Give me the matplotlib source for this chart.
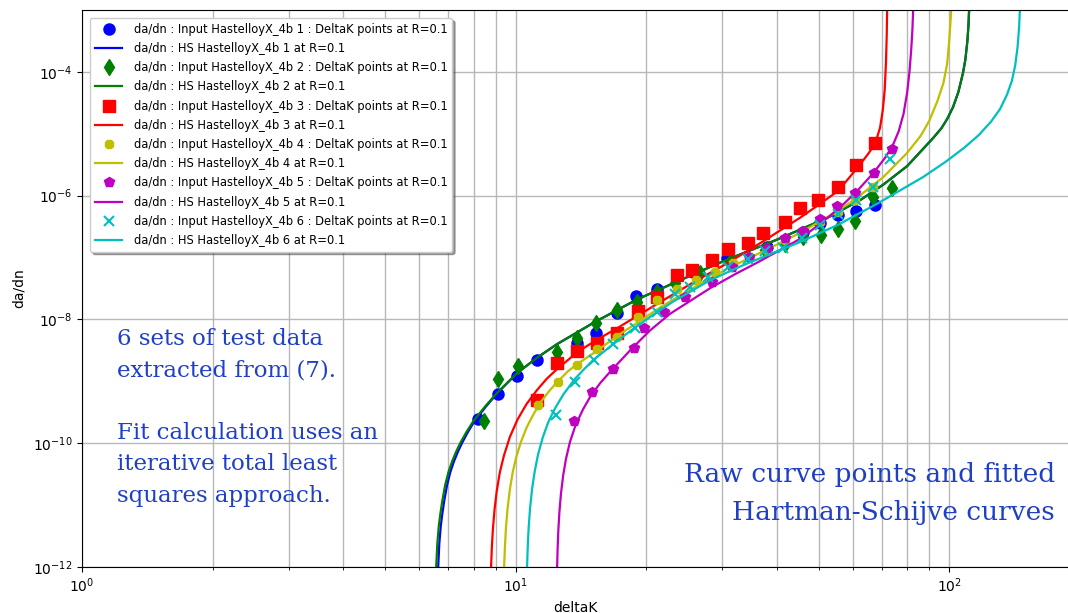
import matplotlib
matplotlib.use("Agg")
import matplotlib.pyplot as plt
from matplotlib.ticker import NullLocator, FixedLocator

# --- raw test points (deltaK, da/dn) ---
test_dk_1 = [8.19, 9.11, 10.08, 11.21, 13.87, 15.34, 17.14, 18.97, 21.21, 25.67, 30.75, 38.03, 46.05, 50.39, 55.45, 61.01, 67.49]
test_dadn_1 = [2.46e-10, 6.24e-10, 1.22e-9, 2.21e-9, 4.16e-9, 6.03e-9, 1.27e-8, 2.39e-8, 3.10e-8, 5.83e-8, 9.8e-8, 1.48e-7, 2.58e-7, 3.61e-7, 4.86e-7, 5.64e-7, 7.05e-7]

test_dk_2 = [8.46, 9.11, 10.13, 12.47, 13.87, 15.34, 17.14, 19.07, 21.21, 23.33, 26.65, 31.25, 37.63, 41.85, 46.05, 50.66, 55.45, 60.69, 66.78, 73.88]
test_dadn_2 = [2.29e-10, 1.09e-9, 1.77e-9, 2.97e-9, 5.00e-9, 8.75e-9, 1.42e-8, 1.91e-8, 2.77e-8, 3.87e-8, 5.62e-8, 8.46e-8, 1.32e-7, 1.65e-7, 2.14e-7, 2.31e-7, 2.89e-7, 3.89e-7, 9.49e-7, 1.32e-6]

test_dk_3 = [11.21, 12.47, 13.87, 15.42, 17.14, 19.17, 21.21, 23.58, 25.54, 28.40, 30.92, 34.4, 37.24, 41.85, 45.33, 49.86, 55.45, 61.01, 67.49]
test_dadn_3 = [4.99e-10, 1.98e-9, 3.09e-9, 4.16e-9, 6.03e-9, 1.37e-8, 2.30e-8, 5.21e-8, 6.28e-8, 9.12e-8, 1.37e-7, 1.71e-7, 2.49e-7, 3.75e-7, 6.31e-7, 8.44e-7, 1.37e-6, 3.12e-6, 7.08e-6]

test_dk_4 = [11.27, 12.53, 13.87, 15.42, 17.14, 19.17, 21.21, 23.58, 26.09, 28.85, 31.74, 34.74, 38.03, 41.85, 46.05, 50.39, 55.45, 60.69, 66.78]
test_dadn_4 = [4.14e-10, 9.75e-10, 1.83e-9, 3.33e-9, 5.19e-9, 1.09e-8, 2.06e-8, 3.10e-8, 4.33e-8, 5.83e-8, 8.15e-8, 1.02e-7, 1.32e-7, 1.92e-7, 2.69e-7, 3.75e-7, 5.43e-7, 8.44e-7, 1.37e-6]

test_dk_5 = [13.65, 15.02, 16.79, 18.77, 19.79, 22.01, 24.6, 28.40, 31.58, 34.56, 38.03, 41.85, 46.05, 50.39, 55.15, 60.69, 67.14, 73.88]
test_dadn_5 = [2.29e-10, 6.72e-10, 1.58e-9, 3.45e-9, 7.27e-9, 1.32e-8, 2.30e-8, 4.02e-8, 7.03e-8, 1.02e-7, 1.42e-7, 2.07e-7, 2.69e-7, 4.19e-7, 6.79e-7, 1.10e-6, 2.32e-6, 5.66e-6]

test_dk_6 = [12.40, 13.72, 15.18, 16.79, 18.87, 21.21, 23.33, 25.27, 27.81, 30.92, 34.4, 37.63, 41.41, 45.81, 50.39, 55.45, 61.01, 66.78, 73.1]
test_dadn_6 = [2.86e-10, 9.75e-10, 2.21e-9, 4.01e-9, 7.27e-9, 1.32e-8, 2.57e-8, 3.34e-8, 4.84e-8, 7.03e-8, 9.46e-8, 1.27e-7, 1.42e-7, 2.07e-7, 3.36e-7, 5.04e-7, 8.44e-7, 1.37e-6, 3.90e-6]

# --- fitted Hartman-Schijve curves ---
hs_dk_1 = [6.63, 6.67, 6.72, 6.77, 6.85, 6.95, 7.07, 7.21, 7.37, 7.52, 7.76, 8.03, 8.54, 9.09, 10.07, 11.2, 12.47,
           15.24, 19.05, 23.6, 30.1, 40.1, 52.4, 62.4, 70.5, 80.0, 91.8, 96.0, 99.0, 102.1, 105.0, 107.6, 109.0,
           110.2, 110.8, 111.2]
hs_dadn_1 = [1.0e-12, 2.4e-12, 4.5e-12, 6.9e-12, 1.2e-11, 2.1e-11, 3.4e-11, 5.1e-11, 7.4e-11, 1.0e-10, 1.51e-10,
             2.24e-10, 3.9e-10, 6.5e-10, 1.35e-9, 2.4e-9, 4.0e-9, 9.1e-9, 2.1e-8, 4.1e-8, 8.7e-8, 1.95e-7, 4.4e-7,
             8.5e-7, 1.51e-6, 3.0e-6, 8.5e-6, 1.23e-5, 1.74e-5, 2.7e-5, 4.7e-5, 9.5e-5, 1.58e-4, 3.2e-4, 5.6e-4, 1.0e-3]

hs_dk_2 = [6.56, 6.60, 6.65, 6.70, 6.78, 6.88, 7.00, 7.14, 7.30, 7.45, 7.70, 7.98, 8.50, 9.06, 10.07, 11.2, 12.47,
           15.24, 19.05, 23.6, 30.1, 40.1, 52.4, 62.4, 70.5, 80.0, 91.8, 96.0, 99.0, 102.1, 105.0, 107.6, 109.0,
           110.2, 110.8, 111.2]
hs_dadn_2 = [1.0e-12, 2.4e-12, 4.5e-12, 6.9e-12, 1.2e-11, 2.1e-11, 3.4e-11, 5.1e-11, 7.4e-11, 1.0e-10, 1.51e-10,
             2.24e-10, 3.9e-10, 6.5e-10, 1.35e-9, 2.4e-9, 4.0e-9, 9.1e-9, 2.1e-8, 4.1e-8, 8.7e-8, 1.95e-7, 4.4e-7,
             8.5e-7, 1.51e-6, 3.0e-6, 8.5e-6, 1.23e-5, 1.74e-5, 2.7e-5, 4.7e-5, 9.5e-5, 1.58e-4, 3.2e-4, 5.6e-4, 1.0e-3]

hs_dk_3 = [8.78, 8.82, 8.87, 8.95, 9.05, 9.20, 9.40, 9.70, 10.1, 10.6, 11.2, 11.8, 12.47, 13.87, 15.4, 17.14,
           21.2, 26.2, 30.8, 37.2, 45.3, 50.0, 55.5, 61.4, 65.0, 67.5, 69.3, 70.3, 71.0, 71.5, 71.8, 71.95]
hs_dadn_3 = [1.0e-12, 2.2e-12, 4.3e-12, 8.9e-12, 1.7e-11, 3.4e-11, 6.3e-11, 1.26e-10, 2.4e-10, 4.3e-10, 7.2e-10,
             1.1e-9, 1.58e-9, 2.95e-9, 4.7e-9, 7.2e-9, 1.78e-8, 4.3e-8, 8.1e-8, 1.82e-7, 4.4e-7, 7.1e-7, 1.2e-6,
             2.8e-6, 4.7e-6, 6.9e-6, 1.26e-5, 2.4e-5, 5.0e-5, 1.41e-4, 4.0e-4, 1.0e-3]

hs_dk_4 = [9.41, 9.45, 9.50, 9.58, 9.70, 9.85, 10.05, 10.3, 10.63, 11.0, 11.5, 12.0, 12.53, 13.2, 13.87, 15.5,
           17.14, 19.2, 21.2, 23.6, 26.2, 30.8, 38.0, 45.3, 52.4, 60.1, 70.5, 80.0, 86.0, 90.0, 94.0, 97.0, 98.9,
           99.9, 100.6, 101.1]
hs_dadn_4 = [1.0e-12, 2.1e-12, 4.2e-12, 8.5e-12, 1.78e-11, 3.4e-11, 6.2e-11, 1.07e-10, 1.86e-10, 2.95e-10, 4.9e-10,
             7.2e-10, 1.0e-9, 1.45e-9, 1.9e-9, 3.2e-9, 5.4e-9, 9.1e-9, 1.45e-8, 2.3e-8, 3.5e-8, 6.6e-8, 1.35e-7,
             2.5e-7, 4.5e-7, 8.3e-7, 2.0e-6, 4.9e-6, 9.3e-6, 1.62e-5, 3.4e-5, 6.6e-5, 1.32e-4, 2.8e-4, 5.6e-4, 1.0e-3]

hs_dk_5 = [12.47, 12.50, 12.55, 12.62, 12.72, 12.87, 13.07, 13.35, 13.75, 14.3, 14.9, 15.7, 16.5, 18.4, 20.4,
           22.7, 25.3, 28.1, 32.1, 36.1, 41.4, 45.3, 50.4, 56.1, 61.4, 66.8, 71.0, 74.0, 76.5, 78.5, 80.0, 81.0,
           81.8, 82.3, 82.6]
hs_dadn_5 = [1.0e-12, 1.9e-12, 3.9e-12, 7.6e-12, 1.48e-11, 2.95e-11, 5.6e-11, 1.05e-10, 1.95e-10, 3.5e-10, 5.8e-10,
             9.5e-10, 1.41e-9, 3.2e-9, 6.6e-9, 1.23e-8, 2.0e-8, 3.2e-8, 5.4e-8, 8.3e-8, 1.41e-7, 2.0e-7, 3.5e-7,
             6.5e-7, 1.2e-6, 2.3e-6, 4.0e-6, 6.3e-6, 1.1e-5, 2.1e-5, 4.6e-5, 1.0e-4, 2.4e-4, 5.0e-4, 1.0e-3]

hs_dk_6 = [10.63, 10.67, 10.72, 10.80, 10.92, 11.07, 11.27, 11.55, 11.9, 12.34, 12.9, 13.71, 14.4, 15.1, 16.8,
           18.7, 20.7, 23.1, 28.1, 33.0, 40.7, 45.3, 55.5, 68.2, 87.1, 98.0, 108.5, 117.0, 125.0, 131.0, 136.0,
           139.5, 142.0, 143.8, 145.0, 145.6]
hs_dadn_6 = [1.0e-12, 2.2e-12, 4.3e-12, 8.9e-12, 1.86e-11, 3.5e-11, 6.6e-11, 1.23e-10, 2.2e-10, 3.7e-10, 6.2e-10,
             1.1e-9, 1.58e-9, 2.2e-9, 4.0e-9, 7.1e-9, 1.17e-8, 1.95e-8, 4.3e-8, 7.2e-8, 1.32e-7, 1.78e-7, 3.4e-7,
             7.4e-7, 2.0e-6, 3.5e-6, 6.0e-6, 9.5e-6, 1.58e-5, 2.5e-5, 4.3e-5, 7.1e-5, 1.26e-4, 2.5e-4, 5.2e-4, 1.0e-3]

test_dk = [test_dk_1, test_dk_2, test_dk_3, test_dk_4, test_dk_5, test_dk_6]
test_dadn = [test_dadn_1, test_dadn_2, test_dadn_3, test_dadn_4, test_dadn_5, test_dadn_6]
hs_dk = [hs_dk_1, hs_dk_2, hs_dk_3, hs_dk_4, hs_dk_5, hs_dk_6]
hs_dadn = [hs_dadn_1, hs_dadn_2, hs_dadn_3, hs_dadn_4, hs_dadn_5, hs_dadn_6]

colors = ['b', 'g', 'r', 'y', 'm', 'c']
markers = ['o', 'd', 's', '8', 'p', 'x']
marker_sizes = [8, 8, 8, 7, 7, 7]

text_blue = '#1f3fc4'

fig = plt.figure(figsize=(10.68, 6.13), dpi=100)
ax = fig.add_axes([82 / 1068, 46 / 613, 1 - 82 / 1068, 557 / 613])

for i in range(6):
    name = 'HastelloyX_4b %d' % (i + 1)
    ax.plot(test_dk[i], test_dadn[i], linestyle='none', marker=markers[i], color=colors[i],
            markersize=marker_sizes[i], markeredgewidth=1.5 if markers[i] == 'x' else 1,
            label='da/dn : Input %s : DeltaK points at R=0.1' % name)
    ax.plot(hs_dk[i], hs_dadn[i], color=colors[i], linewidth=1.6,
            label='da/dn : HS %s at R=0.1' % name)

ax.set_xscale('log')
ax.set_yscale('log')
ax.set_xlim(1, 188)
ax.set_ylim(1e-12, 1e-3)
ax.yaxis.set_major_locator(FixedLocator([1e-12, 1e-10, 1e-8, 1e-6, 1e-4]))
ax.yaxis.set_minor_locator(NullLocator())
ax.grid(True, which='both', color='#b8b8b8', linewidth=1.0)
ax.set_axisbelow(True)
ax.spines['right'].set_visible(False)
ax.tick_params(labelsize=10)

ax.set_xlabel('deltaK', fontsize=10, labelpad=4)
ax.set_ylabel('da/dn', fontsize=10, labelpad=5)

ax.legend(loc='upper left', fontsize=8.3, numpoints=1, labelspacing=0.54,
          handlelength=2.4, handletextpad=1.0, borderaxespad=0.7, shadow=True, framealpha=1)

fig.text(117 / 1068, 1 - 328 / 613,
         '6 sets of test data\nextracted from (7).\n\nFit calculation uses an\niterative total least\nsquares approach.',
         color=text_blue, fontsize=16.5, family='DejaVu Serif', va='top', ha='left', linespacing=1.55)
fig.text(1055 / 1068, 1 - 525 / 613, 'Raw curve points and fitted\nHartman-Schijve curves',
         color=text_blue, fontsize=19, family='DejaVu Serif', va='bottom', ha='right', linespacing=1.65)

fig.savefig('out.png', dpi=100)
